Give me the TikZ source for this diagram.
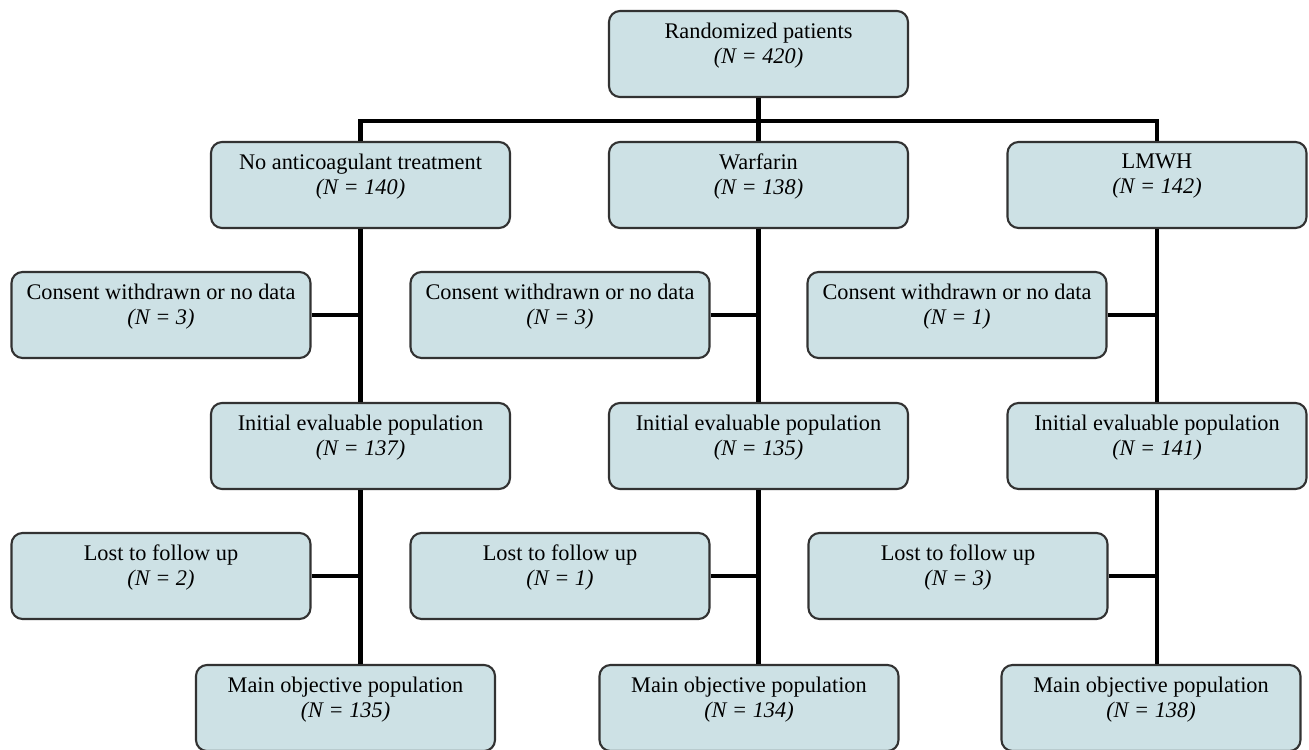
\documentclass[tikz,border=0pt]{standalone}
\usepackage{fontspec}
\setmainfont{Liberation Serif}
\usepackage{tikz}
\usetikzlibrary{positioning}

\definecolor{boxfill}{RGB}{205,225,229}
\definecolor{boxline}{RGB}{50,50,50}
\newcommand{\popn}[2]{#1\\\textit{(N = #2)}\\[-0.2cm]\strut}

\begin{document}
\begin{tikzpicture}[
    box/.style={draw=boxline, line width=1.2pt, fill=boxfill, rounded corners=0.22cm,
        minimum width=5.98cm, minimum height=1.72cm, inner sep=0pt, align=center,
        font=\fontsize{12.7}{14.2}\selectfont},
    link/.style={line width=2.6pt, black}
    ]
\useasboundingbox (0,0) rectangle (26.18,-14.98);

\node[box] (rand) at (15.17,-1.08) {\popn{Randomized patients}{420}};

\node[box] (none) at (7.21,-3.70) {\popn{No anticoagulant treatment}{140}};
\node[box] (warf) at (15.17,-3.70) {\popn{Warfarin}{138}};
\node[box] (lmwh) at (23.14,-3.70) {\popn{LMWH}{142}};

\node[box] (wdA) at (3.22,-6.30) {\popn{Consent withdrawn or no data}{3}};
\node[box] (wdB) at (11.20,-6.30) {\popn{Consent withdrawn or no data}{3}};
\node[box] (wdC) at (19.14,-6.30) {\popn{Consent withdrawn or no data}{1}};

\node[box] (initA) at (7.21,-8.92) {\popn{Initial evaluable population}{137}};
\node[box] (initB) at (15.17,-8.92) {\popn{Initial evaluable population}{135}};
\node[box] (initC) at (23.14,-8.92) {\popn{Initial evaluable population}{141}};

\node[box] (lostA) at (3.22,-11.52) {\popn{Lost to follow up}{2}};
\node[box] (lostB) at (11.20,-11.52) {\popn{Lost to follow up}{1}};
\node[box] (lostC) at (19.16,-11.52) {\popn{Lost to follow up}{3}};

\node[box] (mainA) at (6.91,-14.16) {\popn{Main objective population}{135}};
\node[box] (mainB) at (14.98,-14.16) {\popn{Main objective population}{134}};
\node[box] (mainC) at (23.02,-14.16) {\popn{Main objective population}{138}};

\draw[link] (rand.south) -- (warf.north);
\draw[link] (none.north) -- ++(0,0.40) -| (lmwh.north);

\draw[link] (none.south) -- (initA.north);
\draw[link] (warf.south) -- (initB.north);
\draw[link] (lmwh.south) -- (initC.north);
\draw[link] (wdA.east) -- (wdA.east -| none.south);
\draw[link] (wdB.east) -- (wdB.east -| warf.south);
\draw[link] (wdC.east) -- (wdC.east -| lmwh.south);

\draw[link] (initA.south) -- (initA.south |- mainA.north);
\draw[link] (initB.south) -- (initB.south |- mainB.north);
\draw[link] (initC.south) -- (initC.south |- mainC.north);
\draw[link] (lostA.east) -- (lostA.east -| initA.south);
\draw[link] (lostB.east) -- (lostB.east -| initB.south);
\draw[link] (lostC.east) -- (lostC.east -| initC.south);

\end{tikzpicture}
\end{document}
